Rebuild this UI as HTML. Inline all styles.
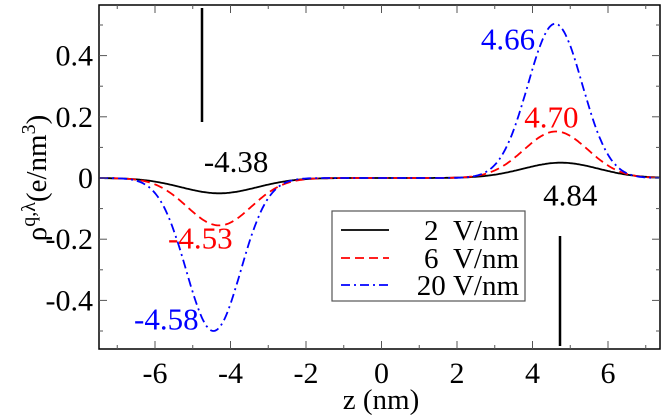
<!DOCTYPE html>
<html><head><meta charset="utf-8"><style>
body{margin:0;background:#fff}
svg, svg text, svg tspan{font-family:"Liberation Serif","DejaVu Serif",serif !important}
</style></head><body>
<svg id="chart" width="664" height="415" viewBox="0 0 664 415" xmlns="http://www.w3.org/2000/svg" font-family="Liberation Serif, serif">
<g id="plot"></g>
</svg>
<script>
const xTicks=[-6,-4,-2,0,2,4,6];
const yTicks=[-0.4,-0.2,0,0.2,0.4];
const yTickLabels=["-0.4","-0.2","0","0.2","0.4"];
const seriesNames=["2\u00a0\u00a0V/nm","6\u00a0\u00a0V/nm","20\u00a0V/nm"];
const seriesColors=["#000","#f00","#00f"];
const seriesDash=["","9,5","9,4,2,4"];
const negCenters=[-4.3,-4.3,-4.45];
const negAmps=[-0.05,-0.155,-0.5];
const posCenters=[4.75,4.62,4.6];
const posAmps=[0.05,0.152,0.504];
const widths=[1.0,0.85,0.72];
const annLabels=["-4.38","-4.53","-4.58","4.84","4.70","4.66"];
const annX=[-3.85,-4.8,-5.7,5.0,4.5,3.35];
const annY=[0.02,-0.23,-0.495,-0.09,0.165,0.42];
const annColor=["#000","#f00","#00f","#000","#f00","#00f"];

const L=99,R=660,T=5,B=349;
const X=z=>381.5+z*37.75;
const Y=v=>178-v*306;
const svg=document.getElementById('chart');
const NS='http://www.w3.org/2000/svg';
function mk(t,a,p){const e=document.createElementNS(NS,t);for(const k in a)e.setAttribute(k,a[k]);
  if(t==='text'){e.setAttribute('style','font-family:"Liberation Serif",serif;font-size:'+a['font-size']+'px');}
  (p||svg).appendChild(e);return e;}

const fr=mk('rect',{x:L,y:T,width:R-L,height:B-T,fill:'none',stroke:'#000','stroke-width':1.5});


for(let z=-7;z<=7;z++){
  const major=z%2===0;const len=major?8:4;
  mk('line',{x1:X(z),x2:X(z),y1:B,y2:B-len,stroke:'#555'});
  mk('line',{x1:X(z),x2:X(z),y1:T,y2:T+len,stroke:'#555'});
}
xTicks.forEach(z=>{
  const t=mk('text',{x:X(z),y:383,'font-size':30,'text-anchor':'middle'});
  t.textContent=String(z);
  
  
});
for(let i=-5;i<=5;i++){
  const v=i/10;const major=i%2===0;const len=major?8:4;
  mk('line',{x1:L,x2:L+len,y1:Y(v),y2:Y(v),stroke:'#555'});
  mk('line',{x1:R,x2:R-len,y1:Y(v),y2:Y(v),stroke:'#555'});
}
yTicks.forEach((v,i)=>{
  const t=mk('text',{x:93,y:Y(v)+10,'font-size':30,'text-anchor':'end'});
  t.textContent=yTickLabels[i];
  
  
});
const xt=mk('text',{x:381,y:409,'font-size':29,'text-anchor':'middle'});
xt.textContent='z (nm)';


const yt=mk('text',{transform:'translate(46,178) rotate(-90)','font-size':29,'text-anchor':'middle'});
yt.innerHTML='ρ<tspan dy="-11" font-size="20">q,λ</tspan><tspan dy="11">(e/nm</tspan><tspan dy="-11" font-size="20">3</tspan><tspan dy="11">)</tspan>';



const plot=document.getElementById('plot');
for(let s=0;s<3;s++){
  let d='';
  for(let z=-7.48;z<=7.38;z+=0.04){
    const v=negAmps[s]*Math.exp(-((z-negCenters[s])**2)/(2*widths[s]**2))+posAmps[s]*Math.exp(-((z-posCenters[s])**2)/(2*widths[s]**2));
    d+=(d?'L':'M')+X(z).toFixed(1)+','+Y(v).toFixed(1);
  }
  const p=mk('path',{d:d,fill:'none',stroke:seriesColors[s],'stroke-width':1.8,'stroke-dasharray':seriesDash[s]},plot);
  
  
}
annLabels.forEach((a,i)=>{
  const t=mk('text',{x:X(annX[i]),y:Y(annY[i]),'font-size':31,'text-anchor':'middle',fill:annColor[i]});
  t.textContent=a;
  
  
});
const v1=mk('line',{x1:202,x2:202,y1:8,y2:122,stroke:'#000','stroke-width':2.5});


const v2=mk('line',{x1:560,x2:560,y1:236,y2:346,stroke:'#000','stroke-width':2.5});


const lg=mk('g',{});


mk('rect',{x:332,y:211,width:193,height:90,fill:'#fff',stroke:'#555','stroke-width':1.2},lg);
const rowsY=[230,258,285];
for(let s=0;s<3;s++){
  const l=mk('line',{x1:341,x2:389,y1:rowsY[s],y2:rowsY[s],stroke:seriesColors[s],'stroke-width':1.8,'stroke-dasharray':seriesDash[s]},lg);
  
  
  const t=mk('text',{x:519,y:rowsY[s]+10,'font-size':29,'text-anchor':'end'},lg);
  t.textContent=seriesNames[s];
  
  
}
</script>
</body></html>
